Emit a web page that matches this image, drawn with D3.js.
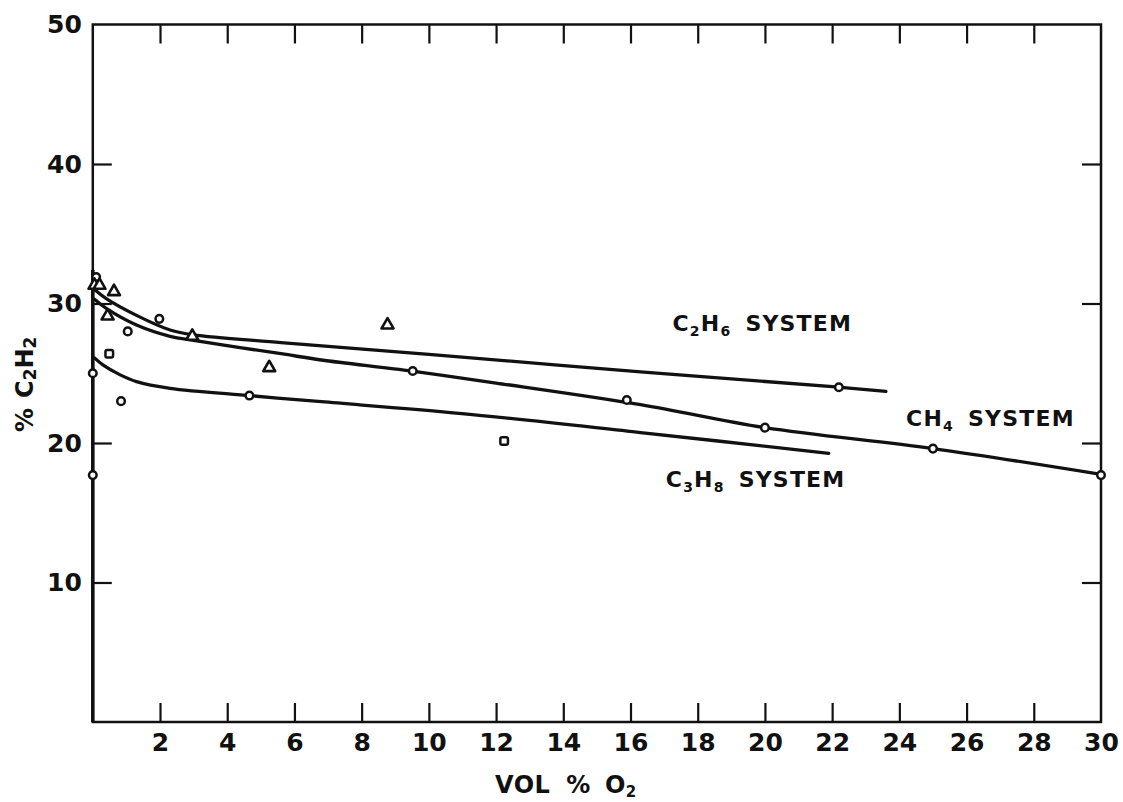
<!DOCTYPE html>
<html>
<head>
<meta charset="utf-8">
<script src="https://cdn.jsdelivr.net/npm/d3@7"></script>
<style>
  html, body { margin: 0; padding: 0; background: #fff; }
  svg { display: block; }
  text { font-family: "DejaVu Sans", sans-serif; font-weight: bold; fill: #111; }
</style>
</head>
<body>
<svg id="chart" width="1123" height="802"></svg>
<script>
// Acetylene yield vs. oxygen added, three hydrocarbon feeds.
const xTicks = [2, 4, 6, 8, 10, 12, 14, 16, 18, 20, 22, 24, 26, 28, 30];
const yTicks = [10, 20, 30, 40, 50];
const xDomain = [0, 30];
const yDomain = [0, 50];

// Faired curves for each system: [vol % O2, % C2H2]
const c2h6Curve = [[0.05, 31.0], [0.4, 30.35], [1.3, 29.15], [2.3, 28.1], [3.0, 27.75],
  [5.6, 27.2], [10, 26.35], [16.3, 25.1], [22.2, 24.0], [23.6, 23.7]];
const ch4Curve = [[0.05, 30.3], [0.4, 29.65], [1.3, 28.46], [2.3, 27.65], [3.0, 27.35],
  [5.6, 26.4], [6.8, 25.95], [9.5, 25.15], [12, 24.3], [16.3, 22.75], [20, 21.1],
  [25, 19.6], [30, 17.75]];
const c3h8Curve = [[0.05, 26.1], [0.3, 25.6], [0.8, 24.9], [1.3, 24.4], [2.3, 23.92],
  [4.7, 23.39], [6.8, 22.96], [10.9, 22.13], [16.3, 20.75], [21.9, 19.26]];

// Experimental points by marker
const circlePoints = [[0, 17.7], [0, 25.0], [0.1, 31.9], [0.84, 23.0], [1.04, 28.0],
  [1.98, 28.9], [4.66, 23.4], [9.52, 25.16], [15.89, 23.08], [20.0, 21.1],
  [22.2, 24.0], [25.0, 19.6], [30.0, 17.7]];
const trianglePoints = [[0.05, 31.3], [0.2, 31.3], [0.63, 30.85], [0.44, 29.1],
  [2.96, 27.65], [5.25, 25.4], [8.77, 28.46]];
const squarePoints = [[0.49, 26.4], [12.24, 20.14]];

// Curve labels, anchored in data units
const curveLabels = [
  { base: "C", sub1: "2", mid: "H", sub2: "6", tail: "SYSTEM", at: [17.25, 28.0] },
  { base: "C", sub1: "", mid: "H", sub2: "4", tail: "SYSTEM", at: [24.2, 21.25] },
  { base: "C", sub1: "3", mid: "H", sub2: "8", tail: "SYSTEM", at: [17.05, 16.85] }
];

const svg = d3.select("#chart");
const plotLeft = 92.8, plotRight = 1101, plotTop = 24.5, plotBottom = 722;
const x = d3.scaleLinear().domain(xDomain).range([plotLeft, plotRight]);
const y = d3.scaleLinear().domain(yDomain).range([plotBottom, plotTop]);
const ink = "#111";
const tickLen = 19;

// Frame with inward ticks on all four sides
svg.append("rect")
  .attr("x", plotLeft).attr("y", plotTop)
  .attr("width", plotRight - plotLeft).attr("height", plotBottom - plotTop)
  .attr("fill", "none").attr("stroke", ink).attr("stroke-width", 2.5);

const bottomAxis = d3.axisBottom(x).tickValues(xTicks).tickSize(-tickLen).tickPadding(11);
const topAxis = d3.axisTop(x).tickValues(xTicks.filter(v => v < 30)).tickSize(-tickLen).tickFormat("");
const leftAxis = d3.axisLeft(y).tickValues(yTicks).tickSize(-tickLen).tickPadding(11);
const rightAxis = d3.axisRight(y).tickValues(yTicks.filter(v => v < 50)).tickSize(-tickLen).tickFormat("");

function styleAxis(g) {
  g.select(".domain").remove();
  g.selectAll(".tick line").attr("stroke", ink).attr("stroke-width", 2.2);
  g.selectAll(".tick text").attr("font-size", 25).attr("fill", ink)
    .attr("font-family", "DejaVu Sans, sans-serif").attr("font-weight", "bold");
}
svg.append("g").attr("transform", `translate(0,${plotBottom})`).call(bottomAxis).call(styleAxis)
  .selectAll(".tick line").filter(d => d === 30).remove();
svg.append("g").attr("transform", `translate(0,${plotTop})`).call(topAxis).call(styleAxis);
svg.append("g").attr("transform", `translate(${plotLeft},0)`).call(leftAxis).call(styleAxis)
  .selectAll(".tick line").filter(d => d === 50).remove();
svg.append("g").attr("transform", `translate(${plotRight},0)`).call(rightAxis).call(styleAxis);

// Heavier left edge where the zero-oxygen points sit
svg.append("line")
  .attr("x1", x(0)).attr("x2", x(0))
  .attr("y1", y(d3.max(circlePoints.filter(d => d[0] < 0.2), d => d[1]) + 0.5))
  .attr("y2", plotBottom)
  .attr("stroke", ink).attr("stroke-width", 3.6);

// Curves
const line = d3.line().x(d => x(d[0])).y(d => y(d[1])).curve(d3.curveCatmullRom.alpha(0.5));
[c2h6Curve, ch4Curve, c3h8Curve].forEach(c => {
  svg.append("path").attr("d", line(c))
    .attr("fill", "none").attr("stroke", ink).attr("stroke-width", 3.3)
    .attr("stroke-linecap", "round").attr("stroke-linejoin", "round");
});

// Markers
svg.append("g").selectAll("circle").data(circlePoints).join("circle")
  .attr("cx", d => x(d[0])).attr("cy", d => y(d[1])).attr("r", 3.8)
  .attr("fill", "#fff").attr("stroke", ink).attr("stroke-width", 2.5);

const tri = d3.symbol().type(d3.symbolTriangle).size(62);
svg.append("g").selectAll("path").data(trianglePoints).join("path")
  .attr("d", tri)
  .attr("transform", d => `translate(${x(d[0])},${y(d[1])})`)
  .attr("fill", "#fff").attr("stroke", ink).attr("stroke-width", 2.6)
  .attr("stroke-linejoin", "round");

svg.append("g").selectAll("rect").data(squarePoints).join("rect")
  .attr("x", d => x(d[0]) - 3.8).attr("y", d => y(d[1]) - 3.8)
  .attr("width", 7.6).attr("height", 7.6).attr("rx", 1.8)
  .attr("fill", "#fff").attr("stroke", ink).attr("stroke-width", 2.5);

// Curve labels with chemical subscripts
curveLabels.forEach(l => {
  const t = svg.append("text")
    .attr("x", x(l.at[0])).attr("y", y(l.at[1]))
    .attr("font-size", 22).attr("letter-spacing", 1.2);
  t.append("tspan").text(l.base);
  if (l.sub1) t.append("tspan").attr("font-size", 14).attr("dy", 5).text(l.sub1);
  t.append("tspan").attr("dy", l.sub1 ? -5 : 0).text(l.mid);
  t.append("tspan").attr("font-size", 14).attr("dy", 5).text(l.sub2);
  t.append("tspan").attr("dy", -5).attr("dx", 14).text(l.tail);
});

// Axis titles
const xt = svg.append("text")
  .attr("x", 495).attr("y", 793)
  .attr("font-size", 24).attr("letter-spacing", 0.5);
xt.append("tspan").text("VOL");
xt.append("tspan").attr("dx", 16).text("%");
xt.append("tspan").attr("dx", 14).text("O");
xt.append("tspan").attr("font-size", 15).attr("dy", 4).text("2");

const yt = svg.append("text")
  .attr("transform", "translate(33,432) rotate(-90)")
  .attr("font-size", 24);
yt.append("tspan").text("%");
yt.append("tspan").attr("dx", 10).text("C");
yt.append("tspan").attr("font-size", 17).attr("dy", 3).text("2");
yt.append("tspan").attr("dy", -3).text("H");
yt.append("tspan").attr("font-size", 17).attr("dy", 3).text("2");
</script>
</body>
</html>
